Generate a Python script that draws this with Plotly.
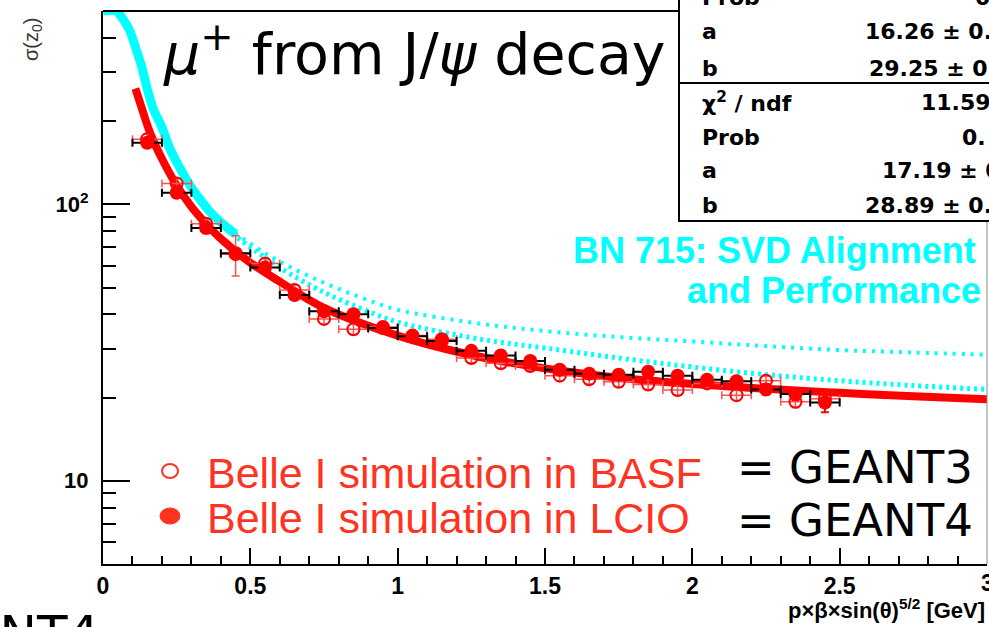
import plotly.graph_objects as go

# ---- measured resolution sigma(z0) vs p*beta*sin^(5/2)(theta) ----
x_bins = [0.15, 0.25, 0.35, 0.45, 0.55, 0.65, 0.75, 0.85, 0.95, 1.05, 1.15, 1.25,
          1.35, 1.45, 1.55, 1.65, 1.75, 1.85, 1.95, 2.05, 2.15, 2.25, 2.35, 2.45]
x_half_width = 0.05

# Belle I simulation in LCIO (filled)
sigma_lcio = [167, 110, 82, 66.5, 59, 47, 41, 40, 35.7, 33.3, 32.0, 29.5,
              28.4, 27.1, 25.2, 24.4, 24.2, 24.8, 24.0, 23.2, 22.9, 21.4, 20.6, 19.2]
sigma_lcio_err = [6, 4, 3, 2.5, 2, 1.8, 1.5, 1.5, 1.3, 1.2, 1.1, 1.1,
                  1.0, 1.0, 0.9, 0.9, 0.9, 0.9, 0.9, 0.9, 0.9, 0.9, 1.0, 1.5]

# Belle I simulation in BASF (open)
sigma_basf = [172, 119, 85, 66, 61, 49, 38.5, 35.3, 36, 33.5, 32.5, 27.8,
              26.6, 26.0, 24.0, 23.3, 22.8, 22.3, 21.3, 22.5, 20.4, 23.0, 19.3, 19.8]
sigma_basf_err = [7, 5, 3.5, 11, 2.5, 2, 1.6, 1.5, 1.4, 1.3, 1.2, 1.1,
                  1.1, 1.0, 1.0, 0.9, 0.9, 0.9, 0.9, 0.9, 0.9, 0.9, 0.9, 1.0]

# fitted curve (red)
fit_x = [0.11, 0.132, 0.16, 0.2, 0.25, 0.3, 0.35, 0.4, 0.5, 0.6, 0.75, 1.0,
         1.25, 1.5, 1.75, 2.0, 2.25, 2.5, 2.75, 3.0]
fit_y = [262, 222, 181, 146, 117, 98, 85, 75, 61.5, 52.5, 42.2, 33.5,
         28.5, 25.5, 23.6, 22.4, 21.5, 20.8, 20.2, 19.7]

# reference curves from BN 715 (cyan)
ref_steep_x = [0.0, 0.045, 0.06, 0.075, 0.092, 0.11, 0.13, 0.15, 0.17, 0.2,
               0.227, 0.26, 0.295, 0.33, 0.363, 0.4, 0.45]
ref_steep_y = [500, 500, 480, 455, 422, 370, 318, 262, 222, 190,
               159, 136, 117, 104, 94, 86, 78]
ref_x = [0.4, 0.5, 0.6, 0.75, 0.9, 1.0, 1.28, 1.5, 1.75, 2.0, 2.25, 2.5, 2.75, 3.0]
ref_hi = [86, 72, 62, 52, 45, 41.5, 37, 34.8, 33.1, 31.9, 30.7, 29.7, 29.1, 28.6]
ref_lo = [84, 70, 59, 48, 41, 37.5, 32.5, 30.2, 27.8, 25.8, 24.2, 23.0, 22.1, 21.4]

# y-axis ticks
y_major = [10, 100]
y_major_text = ["10", "10<sup>2</sup>"]
y_minor = [5, 6, 7, 8, 9, 20, 30, 40, 50, 60, 70, 80, 90, 200, 300, 400, 500]

# fit statistics (visible part of the box)
stat_rows = [
    ("Prob", "0", -2),
    ("a", "16.26 \u00b1 0.", 32),
    ("b", "29.25 \u00b1 0", 68),
    ("\u03c7<sup>2</sup> / ndf", "11.59", 102),
    ("Prob", "0.", 137),
    ("a", "17.19 \u00b1 0", 171),
    ("b", "28.89 \u00b1 0.", 206),
]
stat_value_left = [973, 863, 867, 919, 960, 880, 863]

# ---------------- layout geometry (pixels) ----------------
W, H = 989, 627
L, R, T, B = 103, 2, 11, 63
PW = W - L - R
PH = H - T - B


def px(xp):
    return (xp - L) / PW


def py(yp):
    return (H - B - yp) / PH


RED = "#ff0000"
LEG_RED = "#ff3322"
CYAN = "#00ffff"

fig = go.Figure()

fig.add_trace(go.Scatter(x=ref_steep_x, y=ref_steep_y, mode="lines",
                         line=dict(color=CYAN, width=9, shape="spline"),
                         hoverinfo="skip"))
fig.add_trace(go.Scatter(x=ref_x, y=ref_hi, mode="lines",
                         line=dict(color=CYAN, width=4, shape="spline", dash="3px,6px"),
                         hoverinfo="skip"))
fig.add_trace(go.Scatter(x=ref_x, y=ref_lo, mode="lines",
                         line=dict(color=CYAN, width=5, shape="spline", dash="3px,4px"),
                         hoverinfo="skip"))
fig.add_trace(go.Scatter(x=fit_x, y=fit_y, mode="lines",
                         line=dict(color=RED, width=8, shape="spline"),
                         hoverinfo="skip"))
fig.add_trace(go.Scatter(
    x=x_bins, y=sigma_basf, mode="markers",
    marker=dict(symbol="circle-open", size=12, color=RED, line=dict(width=2)),
    error_x=dict(type="constant", value=x_half_width, color="#ff5050", thickness=1.5, width=4),
    error_y=dict(type="data", array=sigma_basf_err, color="#ff5050", thickness=1.5, width=4),
    name="Belle I simulation in BASF"))
fig.add_trace(go.Scatter(
    x=x_bins, y=sigma_lcio, mode="markers",
    marker=dict(symbol="circle", size=14, color=RED),
    error_x=dict(type="constant", value=x_half_width, color="black", thickness=2, width=4),
    error_y=dict(type="data", array=sigma_lcio_err, color=RED, thickness=2, width=4),
    name="Belle I simulation in LCIO"))

shapes = [
    # top frame up to the stats box
    dict(type="line", xref="paper", yref="paper", x0=0, x1=px(679), y0=1, y1=1,
         line=dict(color="black", width=2), layer="above"),
    # right frame
    dict(type="line", xref="paper", yref="paper", x0=1, x1=1, y0=0, y1=py(221),
         line=dict(color="#888888", width=1), layer="above"),
    # stats box
    dict(type="rect", xref="paper", yref="paper", x0=px(679), x1=px(1010),
         y0=py(221), y1=py(-30), fillcolor="white",
         line=dict(color="black", width=2), layer="above"),
    dict(type="line", xref="paper", yref="paper", x0=px(679), x1=px(1010),
         y0=py(83), y1=py(83), line=dict(color="black", width=2), layer="above"),
    # legend symbols
    dict(type="circle", xref="paper", yref="paper", xsizemode="pixel", ysizemode="pixel",
         xanchor=px(170), yanchor=py(471), x0=-8, x1=8, y0=-7, y1=7,
         line=dict(color=LEG_RED, width=2), fillcolor="rgba(0,0,0,0)", layer="above"),
    dict(type="circle", xref="paper", yref="paper", xsizemode="pixel", ysizemode="pixel",
         xanchor=px(170), yanchor=py(516), x0=-10, x1=10, y0=-8, y1=8,
         line=dict(color=LEG_RED, width=1), fillcolor=LEG_RED, layer="above"),
]

ann = []


def text(x, y, s, size, color="black", family="Liberation Sans", xanchor="left",
         weight="normal", angle=0):
    ann.append(dict(x=px(x), y=py(y), xref="paper", yref="paper", text=s,
                    showarrow=False, xanchor=xanchor, yanchor="middle",
                    textangle=angle,
                    font=dict(size=size, color=color, family=family, weight=weight)))


text(161, 50, "<i>\u03bc</i><sup>+</sup> from J/<i>\u03c8</i> decay", 57,
     family="DejaVu Sans")
for (lab, val, yy), xv in zip(stat_rows, stat_value_left):
    text(700, yy, lab, 22, family="DejaVu Sans", weight="bold")
    text(xv, yy, val, 22, family="DejaVu Sans", weight="bold")
text(978, 250, "BN 715: SVD Alignment", 36, color=CYAN, xanchor="right", weight="bold")
text(983, 290, "and Performance", 36, color=CYAN, xanchor="right", weight="bold")
text(205, 473, "Belle I simulation in BASF", 43, color=LEG_RED)
text(205, 518, "Belle I simulation in LCIO", 43, color=LEG_RED)
text(735, 467, "= GEANT3", 45, family="DejaVu Sans")
text(735, 520, "= GEANT4", 45, family="DejaVu Sans")
text(101, 634, "GEANT4", 50, family="DejaVu Sans", xanchor="right")
text(33, 40, "\u03c3(z<sub>0</sub>)", 20, color="#333333", xanchor="center", angle=-90)
text(987, 609, "p\u00d7\u03b2\u00d7sin(\u03b8)<sup>5/2</sup> [GeV]", 22,
     xanchor="right", weight="bold")
# last x tick label sits on the right edge of the frame
text(987, 583, "3", 23, xanchor="center", weight="bold")

fig.update_layout(
    width=W, height=H,
    margin=dict(l=L, r=R, t=T, b=B, pad=0),
    paper_bgcolor="white", plot_bgcolor="white",
    showlegend=False,
    shapes=shapes, annotations=ann,
    xaxis=dict(range=[0, 3], showgrid=False, zeroline=False,
               showline=True, linecolor="black", linewidth=2, mirror=False,
               ticks="inside", ticklen=16, tickwidth=2, tickcolor="black",
               tickmode="array", tickvals=[0, 0.5, 1, 1.5, 2, 2.5],
               ticktext=["0", "0.5", "1", "1.5", "2", "2.5"],
               tickfont=dict(family="Liberation Sans", size=23, color="black", weight="bold"),
               minor=dict(ticks="inside", ticklen=8, tickwidth=2, tickcolor="black",
                          tick0=0, dtick=0.1)),
    yaxis=dict(type="log", range=[0.69897, 2.69897], showgrid=False, zeroline=False,
               showline=True, linecolor="black", linewidth=2, mirror=False,
               ticks="inside", ticklen=27, tickwidth=2, tickcolor="black",
               tickmode="array", tickvals=y_major, ticktext=y_major_text,
               ticklabelstandoff=8,
               tickfont=dict(family="Liberation Sans", size=22, color="black", weight="bold"),
               minor=dict(ticks="inside", ticklen=13, tickwidth=2, tickcolor="black",
                          tickmode="array", tickvals=y_minor)),
)

fig.write_html("out.html")
